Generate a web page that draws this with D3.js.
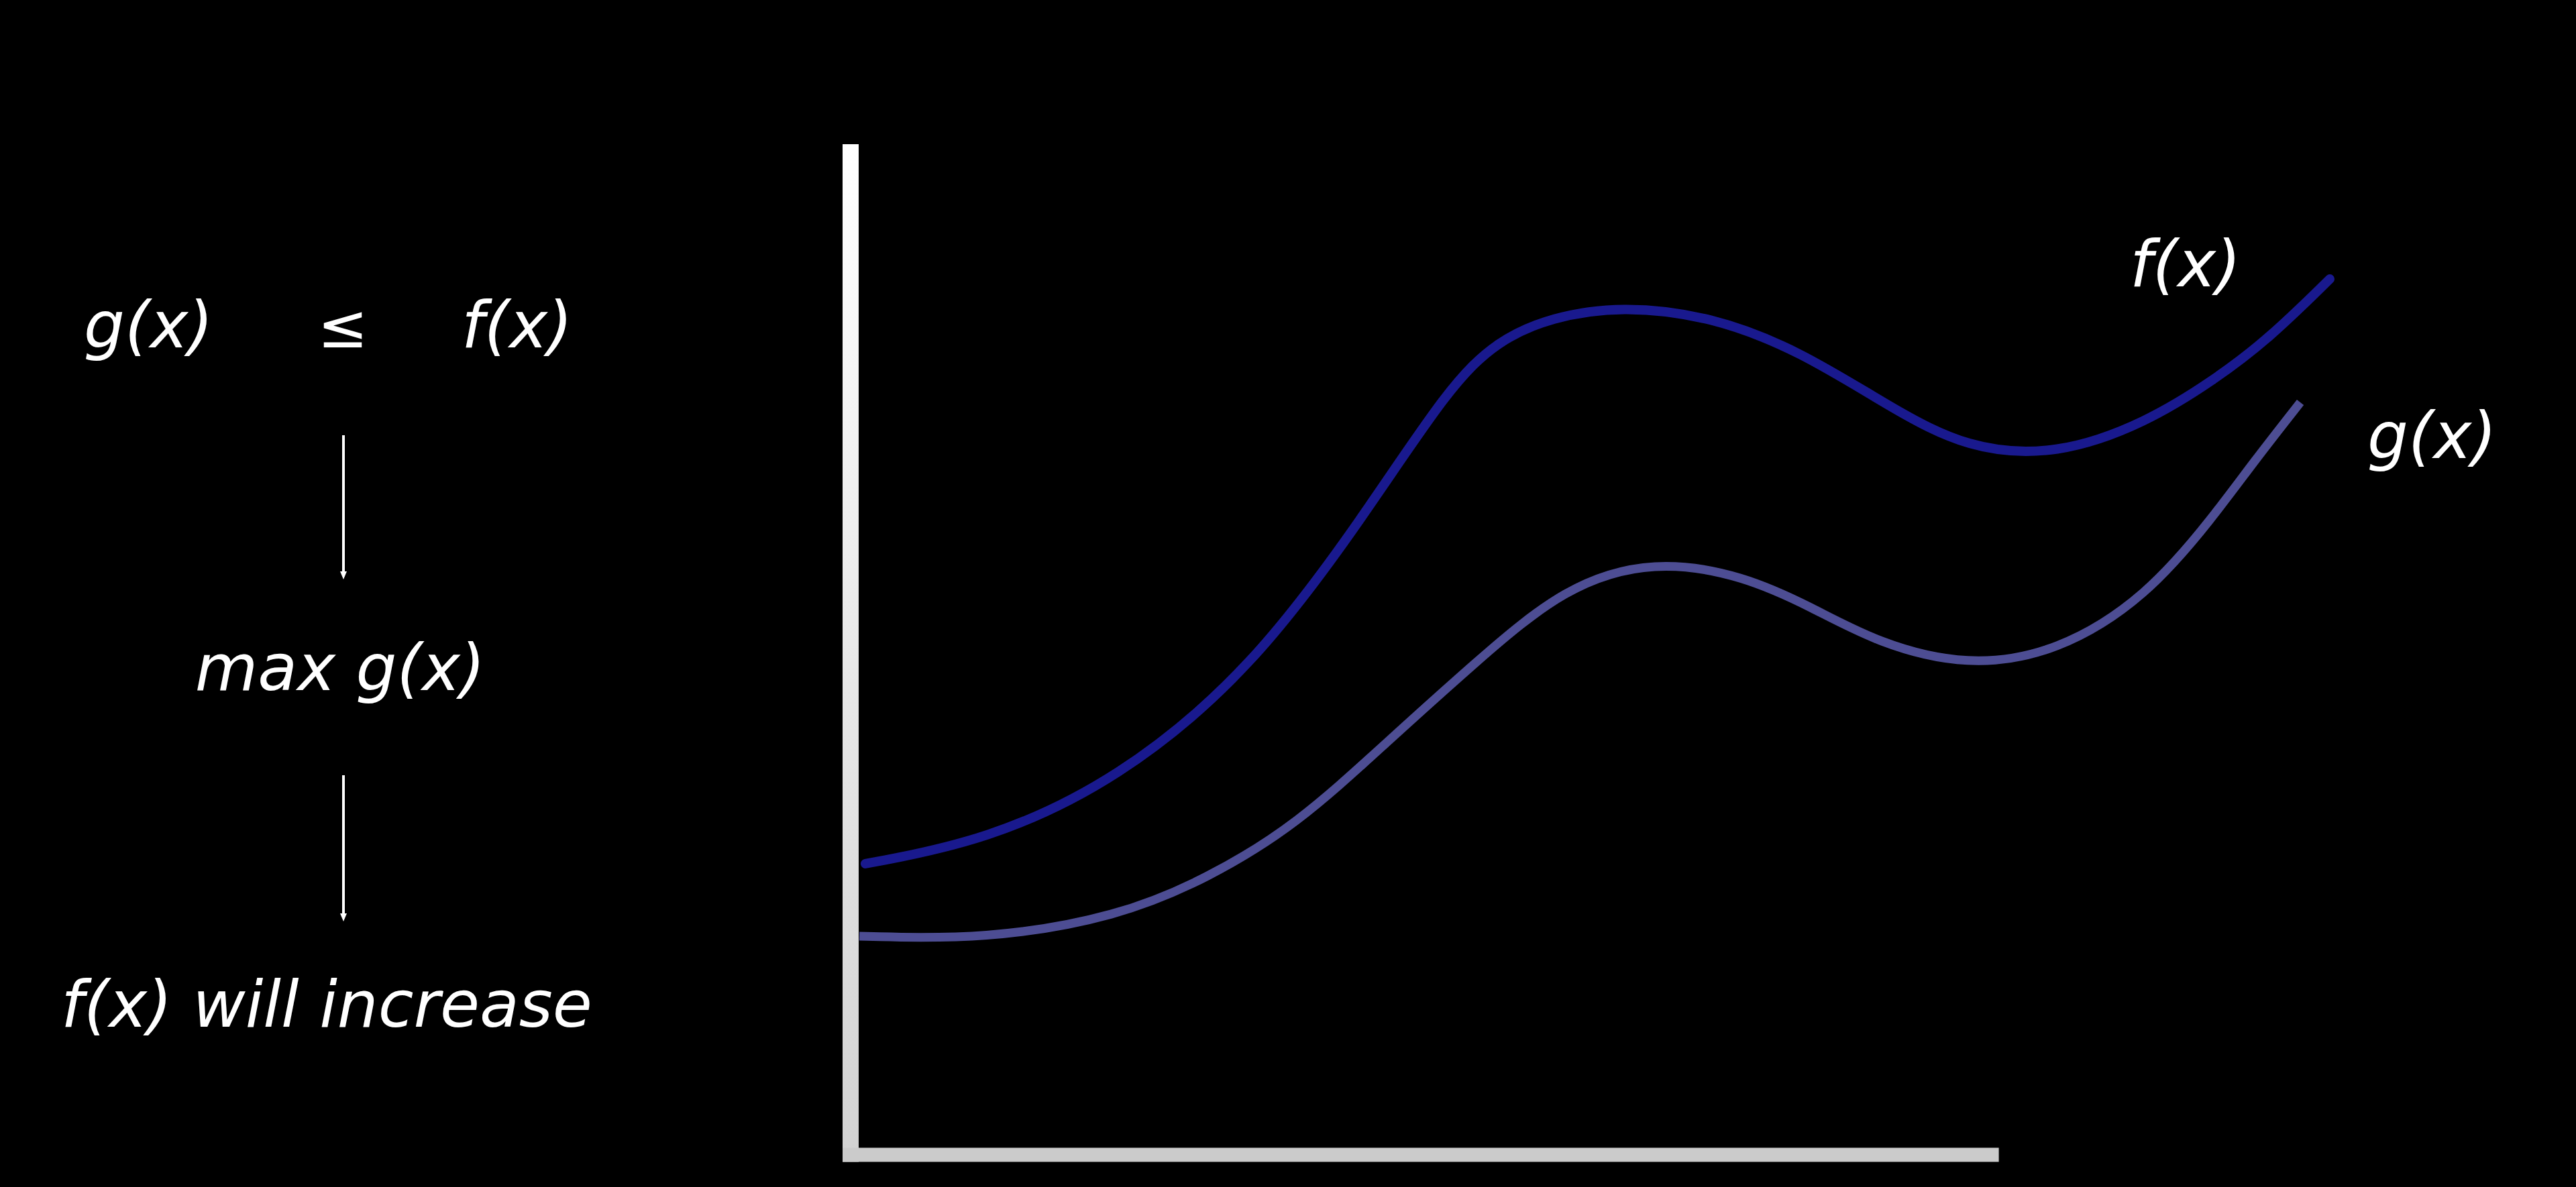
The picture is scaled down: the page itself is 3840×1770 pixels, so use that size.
<!DOCTYPE html>
<html>
<head>
<meta charset="utf-8">
<script src="https://cdn.jsdelivr.net/npm/d3@7"></script>
<style>
  html, body { margin: 0; padding: 0; background: #000; }
  svg { display: block; }
</style>
</head>
<body>
<script>
// ---- data (abstract units: x 0..100 along the horizontal axis, y 0..100 up the vertical axis)
const fX = [1.0, 9.14, 18.14, 27.23, 34.77, 40.55, 43.86, 47.5, 52.23, 58.27, 64.32, 70.41, 75.68, 81.77, 87.82, 92.36, 96.0, 100.23];
const fY = [28.8, 31.05, 37.09, 48.11, 63.17, 76.0, 80.6, 82.9, 84.0, 83.0, 79.56, 73.99, 69.8, 69.2, 72.46, 76.64, 80.62, 86.66];
const gX = [0.59, 9.14, 18.14, 24.18, 30.23, 36.32, 42.36, 48.41, 54.5, 60.55, 65.09, 69.64, 75.68, 81.77, 87.82, 92.36, 95.09, 98.23];
const gY = [21.63, 21.3, 23.56, 27.34, 32.65, 40.81, 48.77, 56.3, 58.9, 57.3, 54.21, 50.6, 48.3, 49.7, 55.21, 63.17, 68.61, 74.45];
const axisExtentX = [0, 77.8];   // horizontal axis runs from the origin to here
const axisExtentY = [0, 100];    // vertical axis runs from the origin to here
const curveLabels = ["f(x)", "g(x)"];
const leftLines = ["g(x)", "\u2264", "f(x)", "max g(x)", "f(x) will increase"];

const W = 3840, H = 1770;
const svg = d3.select("body").append("svg").attr("width", W).attr("height", H);
svg.append("rect").attr("width", W).attr("height", H).attr("fill", "#000");

const x = d3.scaleLinear().domain([0, 100]).range([1268, 3468]);
const y = d3.scaleLinear().domain([0, 100]).range([1722, 215]);

const defs = svg.append("defs");
const grad = defs.append("linearGradient").attr("id", "yaxisGrad")
  .attr("x1", 0).attr("y1", 0).attr("x2", 0).attr("y2", 1);
grad.append("stop").attr("offset", "0%").attr("stop-color", "#ffffff");
grad.append("stop").attr("offset", "100%").attr("stop-color", "#d2d2d2");

// axes
const yAxisW = 24, xAxisH = 21;
svg.append("rect")
  .attr("x", x(0) - yAxisW / 2).attr("y", y(axisExtentY[1]))
  .attr("width", yAxisW).attr("height", y(axisExtentY[0]) - y(axisExtentY[1]) + xAxisH / 2)
  .attr("fill", "url(#yaxisGrad)");
svg.append("rect")
  .attr("x", x(axisExtentX[0]) - yAxisW / 2).attr("y", y(0) - xAxisH / 2)
  .attr("width", x(axisExtentX[1]) - x(axisExtentX[0]) + yAxisW / 2).attr("height", xAxisH)
  .attr("fill", "#cbcbcb");

// curves
const line = d3.line().x(d => x(d[0])).y(d => y(d[1])).curve(d3.curveBasis);
const fData = fX.map((v, i) => [v, fY[i]]);
const gData = gX.map((v, i) => [v, gY[i]]);

svg.append("path").attr("d", line(gData))
  .attr("fill", "none").attr("stroke", "#4d4d93").attr("stroke-width", 13).attr("stroke-linecap", "butt");
svg.append("path").attr("d", line(fData))
  .attr("fill", "none").attr("stroke", "#19198e").attr("stroke-width", 14).attr("stroke-linecap", "round");

const font = "'DejaVu Sans', Verdana, sans-serif";
function txt(s, px, py, anchor) {
  return svg.append("text").attr("x", px).attr("y", py).attr("text-anchor", anchor || "start")
    .attr("font-family", font).attr("font-style", "italic").attr("font-size", 96)
    .attr("fill", "#ffffff").text(s);
}

// curve labels
txt(curveLabels[0], 3175, 427);
txt(curveLabels[1], 3529, 683);

// left-side derivation
txt(leftLines[0], 125, 518);
svg.append("text").attr("x", 511).attr("y", 518).attr("text-anchor", "middle")
  .attr("font-family", font).attr("font-size", 90).attr("fill", "#fff").text(leftLines[1]);
txt(leftLines[2], 688, 518);
txt(leftLines[3], 507, 1029, "middle");
txt(leftLines[4], 487, 1531, "middle");

// arrows
[[649, 864], [1156, 1374]].forEach(([a, b]) => {
  svg.append("line").attr("x1", 512).attr("x2", 512).attr("y1", a).attr("y2", b - 10)
    .attr("stroke", "#fff").attr("stroke-width", 4);
  svg.append("path").attr("d", `M${507},${b - 12} L${517},${b - 12} L${512},${b} Z`).attr("fill", "#fff");
});
</script>
</body>
</html>
